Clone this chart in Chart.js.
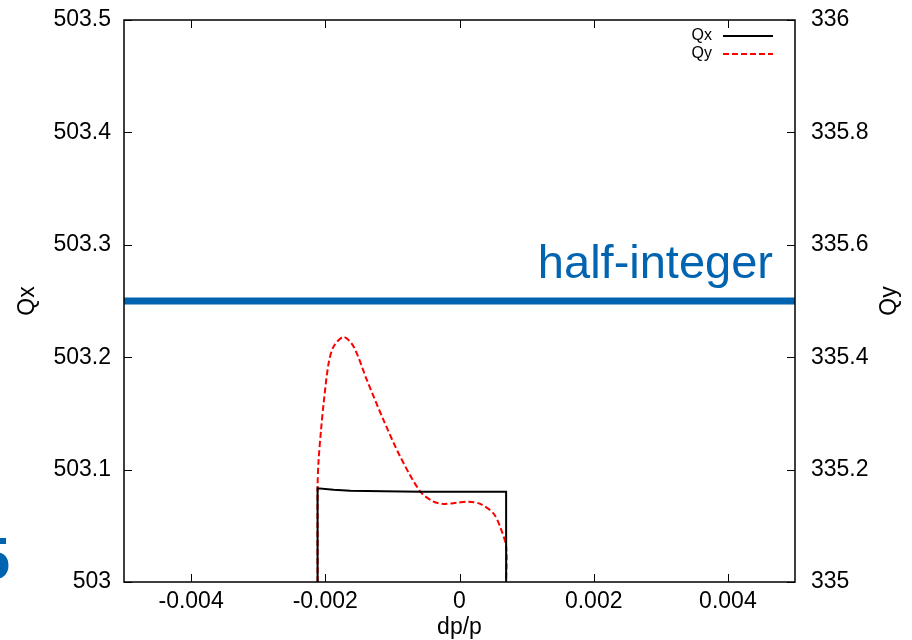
<!DOCTYPE html>
<html>
<head>
<meta charset="utf-8">
<script src="https://cdn.jsdelivr.net/npm/chart.js@4/dist/chart.umd.min.js"></script>
<style>
  html, body { margin: 0; padding: 0; background: #fff; }
  canvas { display: block; }
</style>
</head>
<body>
<canvas id="tuneChart" width="912" height="640"></canvas>
<script>
// axis ticks
const dpTicks = [-0.004, -0.002, 0, 0.002, 0.004];
const dpTickLabels = ['-0.004', '-0.002', '0', '0.002', '0.004'];
const qxTicks = [503, 503.1, 503.2, 503.3, 503.4, 503.5];
const qxTickLabels = ['503', '503.1', '503.2', '503.3', '503.4', '503.5'];
const qyTicks = [335, 335.2, 335.4, 335.6, 335.8, 336];
const qyTickLabels = ['335', '335.2', '335.4', '335.6', '335.8', '336'];

// Qx vs dp/p (left axis)
const qxDp  = [-0.002115, -0.002115, -0.001876, -0.001628, -0.001133, -0.000585, 0.000695, 0.000695];
const qxVal = [503.000, 503.0834, 503.0821, 503.0812, 503.0807, 503.0803, 503.0802, 503.000];

// Qy vs dp/p (right axis)
const qyDp  = [-0.002115, -0.002115, -0.002100, -0.002064, -0.002025, -0.001951, -0.001876, -0.001727,
               -0.001579, -0.001379, -0.001132, -0.000883, -0.000585, -0.000387, -0.000238, -0.000039,
               0.000134, 0.000308, 0.000506, 0.000606, 0.000695, 0.000695];
const qyVal = [335.000, 335.170, 335.217, 335.270, 335.318, 335.389, 335.419, 335.436,
               335.419, 335.359, 335.288, 335.223, 335.161, 335.143, 335.139, 335.141,
               335.143, 335.139, 335.122, 335.098, 335.063, 335.000];

// half-integer resonance line (right axis)
const halfDp = [-0.005, 0.005];
const halfQy = [335.5, 335.5];
const halfLabel = 'half-integer';

const FONT = '"Liberation Sans", Arial, Helvetica, sans-serif';
const BLUE = '#0064b0';

const pts = (xs, ys) => xs.map((x, i) => ({ x, y: ys[i] }));

// keep the plot box where the reference has it
const noPad = s => { s.paddingTop = 0; s.paddingBottom = 0; s.paddingLeft = 0; s.paddingRight = 0; };

const decorations = {
    id: 'decorations',
    afterDatasetsDraw(chart) {
        const { ctx, chartArea: a, scales } = chart;
        ctx.save();

        // frame
        ctx.strokeStyle = '#000';
        ctx.lineWidth = 1.5;
        ctx.strokeRect(a.left, a.top, a.right - a.left, a.bottom - a.top);

        // inward ticks on all four sides
        ctx.lineWidth = 1;
        ctx.beginPath();
        dpTicks.forEach(v => {
            const px = Math.round(scales.x.getPixelForValue(v)) + 0.5;
            ctx.moveTo(px, a.bottom); ctx.lineTo(px, a.bottom - 8);
            ctx.moveTo(px, a.top); ctx.lineTo(px, a.top + 8);
        });
        qxTicks.forEach(v => {
            const py = Math.round(scales.y.getPixelForValue(v)) + 0.5;
            ctx.moveTo(a.left, py); ctx.lineTo(a.left + 8, py);
        });
        qyTicks.forEach(v => {
            const py = Math.round(scales.y2.getPixelForValue(v)) + 0.5;
            ctx.moveTo(a.right, py); ctx.lineTo(a.right - 8, py);
        });
        ctx.stroke();

        // half-integer label
        const hy = scales.y2.getPixelForValue(halfQy[0]);
        ctx.fillStyle = BLUE;
        ctx.font = '47px ' + FONT;
        ctx.textAlign = 'right';
        ctx.textBaseline = 'alphabetic';
        ctx.fillText(halfLabel, a.right - 22, hy - 23);

        // legend (text then line sample)
        ctx.font = '16px ' + FONT;
        ctx.textBaseline = 'middle';
        chart.data.datasets.slice(0, 2).forEach((ds, i) => {
            const ly = a.top + 16 + i * 18;
            ctx.fillStyle = '#000';
            ctx.textAlign = 'right';
            ctx.fillText(ds.label, a.right - 83, ly);
            ctx.strokeStyle = ds.borderColor;
            ctx.lineWidth = 2;
            ctx.setLineDash(ds.borderDash || []);
            ctx.beginPath();
            ctx.moveTo(a.right - 72, ly);
            ctx.lineTo(a.right - 22, ly);
            ctx.stroke();
            ctx.setLineDash([]);
        });

        // axis titles
        ctx.fillStyle = '#000';
        ctx.font = '23px ' + FONT;
        ctx.textAlign = 'center';
        ctx.textBaseline = 'middle';
        ctx.fillText('dp/p', (a.left + a.right) / 2, a.bottom + 46);
        const midY = (a.top + a.bottom) / 2;
        [['Qx', 28], ['Qy', 890]].forEach(([t, x]) => {
            ctx.save();
            ctx.translate(x, midY);
            ctx.rotate(-Math.PI / 2);
            ctx.fillText(t, 0, 0);
            ctx.restore();
        });

        // slide page number peeking in at the left edge
        ctx.fillStyle = BLUE;
        ctx.font = 'bold 60px ' + FONT;
        ctx.textAlign = 'right';
        ctx.textBaseline = 'alphabetic';
        ctx.fillText('5', 10, 579);

        ctx.restore();
    }
};

new Chart(document.getElementById('tuneChart'), {
    type: 'line',
    data: {
        datasets: [
            {
                label: 'Qx',
                data: pts(qxDp, qxVal),
                yAxisID: 'y',
                borderColor: '#000',
                borderWidth: 2,
                pointRadius: 0,
                tension: 0,
                fill: false
            },
            {
                label: 'Qy',
                data: pts(qyDp, qyVal),
                yAxisID: 'y2',
                borderColor: '#ff0000',
                borderWidth: 2,
                borderDash: [6, 3],
                pointRadius: 0,
                tension: 0.3,
                fill: false
            },
            {
                label: halfLabel,
                data: pts(halfDp, halfQy),
                yAxisID: 'y2',
                borderColor: BLUE,
                borderWidth: 7,
                pointRadius: 0,
                tension: 0,
                fill: false
            }
        ]
    },
    options: {
        responsive: false,
        animation: false,
        layout: { padding: { top: 20, left: 0, right: 0, bottom: 0 } },
        plugins: {
            legend: { display: false },
            tooltip: { enabled: false }
        },
        scales: {
            x: {
                type: 'linear',
                min: -0.005,
                max: 0.005,
                grid: { display: false, drawTicks: false },
                border: { display: false },
                afterBuildTicks: s => { s.ticks = dpTicks.map(v => ({ value: v })); },
                afterFit: s => { s.height = 58; noPad(s); },
                ticks: {
                    autoSkip: false,
                    maxRotation: 0,
                    padding: 6,
                    color: '#000',
                    font: { family: FONT, size: 23 },
                    callback: (v, i) => dpTickLabels[i]
                }
            },
            y: {
                type: 'linear',
                position: 'left',
                min: 503,
                max: 503.5,
                grid: { display: false, drawTicks: false },
                border: { display: false },
                afterBuildTicks: s => { s.ticks = qxTicks.map(v => ({ value: v })); },
                afterFit: s => { s.width = 124; noPad(s); },
                ticks: {
                    padding: 13,
                    color: '#000',
                    font: { family: FONT, size: 23 },
                    callback: (v, i) => qxTickLabels[i]
                }
            },
            y2: {
                type: 'linear',
                position: 'right',
                min: 335,
                max: 336,
                grid: { display: false, drawTicks: false },
                border: { display: false },
                afterBuildTicks: s => { s.ticks = qyTicks.map(v => ({ value: v })); },
                afterFit: s => { s.width = 117; noPad(s); },
                ticks: {
                    padding: 16,
                    color: '#000',
                    font: { family: FONT, size: 23 },
                    callback: (v, i) => qyTickLabels[i]
                }
            }
        }
    },
    plugins: [decorations]
});
</script>
</body>
</html>
